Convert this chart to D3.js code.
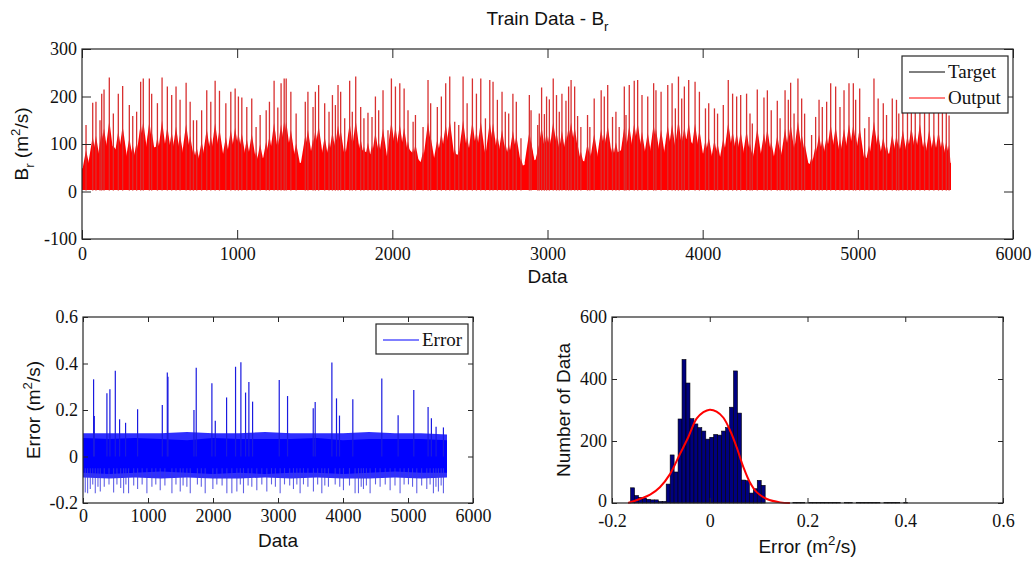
<!DOCTYPE html>
<head>
<meta charset="utf-8" />
</head>
<style>
body { margin: 0; background: #fff; }
svg { display: block; }
</style>
<body>
<script src="https://cdn.jsdelivr.net/npm/d3@7"></script>
<script>
// ---- data ----
// top panel: ticks
var brXTicks = [0, 1000, 2000, 3000, 4000, 5000, 6000];
var brYTicks = [-100, 0, 100, 200, 300];
// top panel: solid body of the output curve, one value every 100 samples
var brBodyStep = 100;
var brBodyTop = [60, 95, 120, 70, 110, 120, 80, 70, 90, 85, 70, 75, 95, 120, 75, 80, 100, 85, 110, 90,
  90, 115, 70, 80, 100, 85, 95, 110, 60, 80, 95, 110, 85, 70, 90, 115, 95, 80, 105, 140,
  100, 85, 100, 85, 70, 80, 95, 70, 90, 105, 80, 95, 100, 90, 85, 80, 75];
// top panel: peaks [sample, Br]
var brPeaks = [[26,140],[69,187],[90,189],[116,150],[127,206],[142,215],[176,240],[202,164],[234,206],[262,222],
  [305,182],[327,159],[352,168],[378,231],[395,238],[434,238],[449,206],[486,186],[516,240],[550,221],
  [578,203],[606,221],[632,193],[671,229],[697,189],[718,150],[739,150],[771,171],[804,213],[830,189],
  [858,233],[886,212],[927,186],[959,210],[987,217],[1008,200],[1030,198],[1062,178],[1094,196],[1122,136],
  [1148,161],[1187,171],[1208,189],[1238,233],[1262,177],[1283,228],[1303,238],[1316,238],[1346,210],[1380,164],
  [1439,189],[1456,210],[1489,178],[1504,210],[1525,224],[1564,186],[1592,168],[1614,203],[1633,182],[1650,224],
  [1667,210],[1693,154],[1725,233],[1742,168],[1764,242],[1796,178],[1817,154],[1843,166],[1869,157],[1891,200],
  [1912,171],[1940,213],[1972,129],[1994,238],[2020,221],[2048,228],[2076,217],[2101,171],[2134,147],[2149,161],
  [2198,136],[2230,235],[2247,186],[2290,178],[2316,200],[2344,228],[2370,242],[2402,147],[2428,140],[2456,242],
  [2482,186],[2516,238],[2542,206],[2570,238],[2600,154],[2628,235],[2649,231],[2677,193],[2707,210],[2728,168],
  [2750,164],[2777,206],[2799,189],[2829,112],[2883,203],[2894,171],[2937,140],[2947,164],[2962,219],[2980,163],
  [2994,200],[3012,194],[3037,238],[3058,203],[3076,168],[3093,206],[3119,191],[3136,221],[3152,235],[3175,221],
  [3194,159],[3215,136],[3258,161],[3273,136],[3301,196],[3346,213],[3366,200],[3388,224],[3419,157],[3441,168],
  [3462,136],[3495,221],[3506,161],[3527,224],[3559,233],[3581,235],[3609,203],[3646,200],[3684,228],[3699,213],
  [3732,210],[3775,224],[3803,228],[3824,175],[3844,242],[3865,196],[3882,221],[3910,235],[3951,231],[3979,210],
  [4018,175],[4039,186],[4076,175],[4096,164],[4133,182],[4165,235],[4193,206],[4219,200],[4245,203],[4283,206],
  [4305,164],[4320,143],[4352,215],[4395,198],[4417,213],[4442,171],[4481,191],[4499,154],[4531,213],[4552,193],
  [4567,229],[4589,164],[4614,238],[4638,196],[4657,164],[4702,119],[4728,157],[4750,193],[4771,178],[4799,189],
  [4825,228],[4857,221],[4885,178],[4911,213],[4943,228],[4971,228],[4986,193],[5012,217],[5044,133],[5072,157],
  [5104,238],[5131,196],[5164,186],[5185,161],[5222,196],[5249,193],[5264,164],[5290,210],[5320,190],[5345,220],
  [5370,200],[5400,230],[5430,180],[5460,210],[5490,195],[5520,205],[5545,180],[5570,170],[5588,160]];

// bottom left: error series
var errXTicks = [0, 1000, 2000, 3000, 4000, 5000, 6000];
var errYTicks = [-0.2, 0, 0.2, 0.4, 0.6];
var errBandStep = 400;
var errCoreHi = [0.08, 0.075, 0.08, 0.075, 0.07, 0.08, 0.075, 0.075, 0.075, 0.08, 0.07, 0.075, 0.075, 0.075, 0.07];
var errCoreLo = [-0.07, -0.075, -0.07, -0.065, -0.07, -0.075, -0.07, -0.075, -0.07, -0.07, -0.075, -0.07, -0.065, -0.07, -0.07];
var errOuterHi = [0.1, 0.1, 0.1, 0.1, 0.105, 0.1, 0.1, 0.105, 0.1, 0.1, 0.1, 0.105, 0.1, 0.1, 0.095];
var errOuterLo = [-0.09, -0.095, -0.09, -0.095, -0.09, -0.095, -0.095, -0.09, -0.095, -0.09, -0.095, -0.095, -0.09, -0.095, -0.09];
var errUpPeaks = [[163,0.332],[174,0.174],[368,0.272],[414,0.289],[497,0.369],[563,0.16],[655,0.145],[840,0.203],
  [1220,0.221],[1297,0.361],[1307,0.343],[1707,0.2],[1742,0.382],[1983,0.315],[2035,0.154],[2209,0.254],
  [2347,0.386],[2429,0.405],[2501,0.275],[2552,0.32],[2609,0.236],[3019,0.329],[3147,0.26],[3542,0.208],
  [3572,0.234],[3829,0.404],[3900,0.25],[3946,0.176],[4151,0.246],[4597,0.336],[4848,0.177],[5089,0.286],
  [5309,0.213],[5360,0.164],[5432,0.128],[5545,0.125]];
var errDownPeaks = [[35,-0.155],[71,-0.158],[112,-0.14],[150,-0.12],[189,-0.158],[230,-0.13],[266,-0.15],[327,-0.13],
  [400,-0.12],[471,-0.155],[522,-0.12],[580,-0.135],[625,-0.158],[660,-0.12],[701,-0.158],[780,-0.125],[840,-0.14],
  [910,-0.12],[983,-0.158],[1060,-0.13],[1120,-0.12],[1188,-0.145],[1260,-0.125],[1368,-0.158],[1430,-0.12],
  [1496,-0.15],[1540,-0.125],[1598,-0.13],[1650,-0.158],[1760,-0.12],[1820,-0.13],[1880,-0.158],[1998,-0.14],
  [2059,-0.12],[2140,-0.125],[2213,-0.158],[2290,-0.158],[2367,-0.15],[2420,-0.12],[2469,-0.158],[2540,-0.125],
  [2597,-0.13],[2674,-0.145],[2751,-0.12],[2828,-0.15],[2900,-0.12],[2960,-0.13],[3033,-0.158],[3100,-0.12],
  [3180,-0.125],[3238,-0.14],[3290,-0.12],[3340,-0.158],[3392,-0.12],[3460,-0.13],[3545,-0.15],[3610,-0.12],
  [3674,-0.158],[3720,-0.125],[3776,-0.13],[3880,-0.12],[3950,-0.13],[4007,-0.145],[4100,-0.125],[4186,-0.158],
  [4238,-0.158],[4280,-0.13],[4315,-0.14],[4360,-0.125],[4417,-0.158],[4500,-0.12],[4571,-0.13],[4650,-0.12],
  [4725,-0.145],[4800,-0.125],[4878,-0.158],[4940,-0.12],[5007,-0.12],[5070,-0.13],[5135,-0.158],[5210,-0.125],
  [5289,-0.14],[5340,-0.12],[5391,-0.158],[5430,-0.13],[5468,-0.15],[5510,-0.125],[5545,-0.158]];

// bottom right: histogram of the error and fitted curve
var histXTicks = [-0.2, 0, 0.2, 0.4, 0.6];
var histYTicks = [0, 200, 400, 600];
var histStart = -0.162;
var histBinWidth = 0.0081;
var histCounts = [49, 24, 18, 16, 12, 10, 10, 5, 5, 61, 155, 100, 271, 463, 387, 272, 255, 243, 232, 206,
  212, 221, 219, 232, 243, 309, 426, 290, 74, 72, 32, 46, 73, 57, 0, 0, 0, 0, 0, 0,
  0, 2, 1, 1, 0, 2, 1, 1, 2, 1, 1, 2, 1, 0, 1, 1, 0, 2, 1, 1,
  2, 1, 1, 0, 1, 1, 2, 1, 0, 1];
var fitX = [-0.167, -0.143, -0.122, -0.102, -0.081, -0.061, -0.044, -0.027, -0.013, 0.0, 0.014, 0.028,
  0.043, 0.055, 0.069, 0.082, 0.096, 0.117, 0.144, 0.164];
var fitY = [0, 13, 27, 51, 94, 158, 212, 272, 293, 301, 295, 275, 229, 180, 115, 67, 35, 13, 2, 0];

// ---- drawing ----
var W = 1034, H = 561;
var svg = d3.select("body").append("svg").attr("width", W).attr("height", H);
svg.append("rect").attr("width", W).attr("height", H).attr("fill", "#fff");

var serif = "'Liberation Serif', 'Times New Roman', serif";
var sans = "'Liberation Sans', Arial, Helvetica, sans-serif";
var axisColor = "#262626";

function makePanel(box, xDom, yDom) {
  return {
    box: box,
    x: d3.scaleLinear().domain(xDom).range([box.l, box.r]),
    y: d3.scaleLinear().domain(yDom).range([box.b, box.t]),
    g: svg.append("g")
  };
}

function drawAxes(p, xTicks, yTicks, tick, padX, padY) {
  var fmt = function(d) { return String(+d.toFixed(2)); };
  var g = p.g.append("g");
  var axes = [
    g.append("g").attr("transform", "translate(0," + p.box.b + ")")
      .call(d3.axisBottom(p.x).tickValues(xTicks).tickSize(-tick).tickPadding(padX).tickFormat(fmt)),
    g.append("g").attr("transform", "translate(0," + p.box.t + ")")
      .call(d3.axisTop(p.x).tickValues(xTicks).tickSize(-tick).tickFormat("")),
    g.append("g").attr("transform", "translate(" + p.box.l + ",0)")
      .call(d3.axisLeft(p.y).tickValues(yTicks).tickSize(-tick).tickPadding(padY).tickFormat(fmt)),
    g.append("g").attr("transform", "translate(" + p.box.r + ",0)")
      .call(d3.axisRight(p.y).tickValues(yTicks).tickSize(-tick).tickFormat(""))
  ];
  axes.forEach(function(a) { a.attr("font-family", serif).attr("font-size", 18); });
  g.selectAll(".domain").remove();
  g.selectAll(".tick line").attr("stroke", axisColor);
  g.selectAll(".tick text")
    .style("font-family", serif)
    .style("font-size", "18px")
    .style("fill", "#111");
  g.append("rect")
    .attr("x", p.box.l).attr("y", p.box.t)
    .attr("width", p.box.r - p.box.l).attr("height", p.box.b - p.box.t)
    .attr("fill", "none").attr("stroke", axisColor).attr("stroke-width", 1.2);
}

// label with sub/superscript parts: [text, shift] where shift = 0, "sub" or "sup"
function richText(parent, parts, size) {
  var t = parent.append("text")
    .attr("text-anchor", "middle")
    .style("font-family", sans)
    .style("font-size", size + "px")
    .style("fill", "#111");
  var shift = 0;
  parts.forEach(function(pt) {
    var target = pt[1] == "sub" ? size * 0.3 : (pt[1] == "sup" ? -size * 0.42 : 0);
    var ts = t.append("tspan").attr("dy", target - shift).text(pt[0]);
    if (pt[1]) ts.style("font-size", (size * 0.7) + "px");
    shift = target;
  });
  return t;
}

/* ------- TOP PANEL: Br ------- */
var tp = makePanel({l: 82, r: 1013, t: 49, b: 239}, [0, 6000], [-100, 300]);

var bodyData = brBodyTop.map(function(v, i) { return {i: i * brBodyStep, v: v * 0.8}; });
tp.g.append("path")
  .datum(bodyData)
  .attr("fill", "#ff0000")
  .attr("d", d3.area()
    .x(function(d) { return tp.x(d.i); })
    .y0(tp.y(3))
    .y1(function(d) { return tp.y(d.v); }));

// each peak: a filled hump under it plus the thin line up to its top
var hillHalf = 30;
tp.g.append("g").selectAll("path")
  .data(brPeaks)
  .enter().append("path")
  .attr("fill", "#ff0000")
  .attr("d", function(d) {
    return d3.line()([
      [tp.x(Math.max(0, d[0] - hillHalf)), tp.y(3)],
      [tp.x(Math.max(0, d[0] - hillHalf)), tp.y(d[1] * 0.3)],
      [tp.x(d[0]), tp.y(d[1] * 0.62)],
      [tp.x(Math.min(5600, d[0] + hillHalf)), tp.y(d[1] * 0.3)],
      [tp.x(Math.min(5600, d[0] + hillHalf)), tp.y(3)]
    ]) + "Z";
  });

tp.g.append("g").selectAll("line")
  .data(brPeaks)
  .enter().append("line")
  .attr("x1", function(d) { return tp.x(d[0]); })
  .attr("x2", function(d) { return tp.x(d[0]); })
  .attr("y1", tp.y(2))
  .attr("y2", function(d) { return tp.y(d[1]); })
  .attr("stroke", "#d83030")
  .attr("stroke-width", 1.3);

drawAxes(tp, brXTicks, brYTicks, 9, 8, 5);

richText(svg, [["Train Data - B", 0], ["r", "sub"]], 19)
  .attr("x", (tp.box.l + tp.box.r) / 2).attr("y", 25);
richText(svg, [["Data", 0]], 19)
  .attr("x", (tp.box.l + tp.box.r) / 2).attr("y", 283);
richText(svg, [["B", 0], ["r", "sub"], [" (m", 0], ["2", "sup"], ["/s)", 0]], 19)
  .attr("transform", "translate(28," + (tp.box.t + tp.box.b) / 2 + ") rotate(-90)");

// legend
var lg = svg.append("g").attr("transform", "translate(" + (tp.box.r - 111) + "," + (tp.box.t + 7) + ")");
lg.append("rect").attr("width", 106).attr("height", 57).attr("fill", "#fff").attr("stroke", axisColor).attr("stroke-width", 1.2);
[["Target", "#000"], ["Output", "#ff0000"]].forEach(function(e, k) {
  lg.append("line").attr("x1", 7).attr("x2", 43).attr("y1", 16 + k * 26).attr("y2", 16 + k * 26)
    .attr("stroke", e[1]).attr("stroke-width", 1);
  lg.append("text").attr("x", 46).attr("y", 22 + k * 26).text(e[0])
    .style("font-family", serif).style("font-size", "19px").style("fill", "#111");
});

/* ------- BOTTOM LEFT: error ------- */
var el = makePanel({l: 83, r: 473, t: 317, b: 503}, [0, 6000], [-0.2, 0.6]);

function band(hi, lo) {
  return hi.map(function(v, i) { return {i: i * errBandStep, hi: v, lo: lo[i]}; });
}
var bandArea = d3.area()
  .x(function(d) { return el.x(d.i); })
  .y0(function(d) { return el.y(d.lo); })
  .y1(function(d) { return el.y(d.hi); });

el.g.append("path").datum(band(errOuterHi, errOuterLo))
  .attr("fill", "#0000ff").attr("fill-opacity", 0.82).attr("d", bandArea);
el.g.append("path").datum(band(errCoreHi, errCoreLo))
  .attr("fill", "#0000ff").attr("d", bandArea);

el.g.append("g").selectAll("line")
  .data(errDownPeaks)
  .enter().append("line")
  .attr("x1", function(d) { return el.x(d[0]); })
  .attr("x2", function(d) { return el.x(d[0]); })
  .attr("y1", el.y(-0.05))
  .attr("y2", function(d) { return el.y(d[1]); })
  .attr("stroke", "#3a3ae0").attr("stroke-width", 1.1).attr("stroke-opacity", 0.8);

el.g.append("g").selectAll("line")
  .data(errUpPeaks)
  .enter().append("line")
  .attr("x1", function(d) { return el.x(d[0]); })
  .attr("x2", function(d) { return el.x(d[0]); })
  .attr("y1", el.y(0))
  .attr("y2", function(d) { return el.y(d[1]); })
  .attr("stroke", "#1a1ae0").attr("stroke-width", 1.2);

drawAxes(el, errXTicks, errYTicks, 5, 6, 5);

richText(svg, [["Data", 0]], 19)
  .attr("x", (el.box.l + el.box.r) / 2).attr("y", 547);
richText(svg, [["Error (m", 0], ["2", "sup"], ["/s)", 0]], 19)
  .attr("transform", "translate(40," + (el.box.t + el.box.b) / 2 + ") rotate(-90)");

var lg2 = svg.append("g").attr("transform", "translate(" + (el.box.r - 97) + "," + (el.box.t + 7) + ")");
lg2.append("rect").attr("width", 92).attr("height", 30).attr("fill", "#fff").attr("stroke", axisColor).attr("stroke-width", 1.2);
lg2.append("line").attr("x1", 7).attr("x2", 43).attr("y1", 16).attr("y2", 16)
  .attr("stroke", "#0000ff").attr("stroke-width", 1);
lg2.append("text").attr("x", 46).attr("y", 22).text("Error")
  .style("font-family", serif).style("font-size", "19px").style("fill", "#111");

/* ------- BOTTOM RIGHT: histogram ------- */
var hp = makePanel({l: 612, r: 1003, t: 317, b: 503}, [-0.2, 0.6], [0, 600]);

hp.g.append("g").selectAll("rect")
  .data(histCounts.map(function(c, i) { return {lo: histStart + i * histBinWidth, c: c}; })
    .filter(function(d) { return d.c > 0; }))
  .enter().append("rect")
  .attr("x", function(d) { return hp.x(d.lo); })
  .attr("width", function(d) { return hp.x(d.lo + histBinWidth) - hp.x(d.lo); })
  .attr("y", function(d) { return hp.y(d.c); })
  .attr("height", function(d) { return hp.y(0) - hp.y(d.c); })
  .attr("fill", "#00007f")
  .attr("stroke", "#000")
  .attr("stroke-width", 0.6);

hp.g.append("path")
  .datum(fitX.map(function(v, i) { return [v, fitY[i]]; }))
  .attr("fill", "none")
  .attr("stroke", "#ff0000")
  .attr("stroke-width", 2)
  .attr("d", d3.line()
    .curve(d3.curveCatmullRom)
    .x(function(d) { return hp.x(d[0]); })
    .y(function(d) { return hp.y(d[1]); }));

drawAxes(hp, histXTicks, histYTicks, 5, 11, 5);
// the y label "0" sits just above the "-0.2" x label: nudge it up a little
hp.g.selectAll(".tick text").filter(function(d) { return d === 0 && this.getAttribute("x") < 0; })
  .attr("dy", "0.2em");

richText(svg, [["Error (m", 0], ["2", "sup"], ["/s)", 0]], 19)
  .attr("x", (hp.box.l + hp.box.r) / 2).attr("y", 553);
richText(svg, [["Number of Data", 0]], 19)
  .attr("transform", "translate(570," + (hp.box.t + hp.box.b) / 2 + ") rotate(-90)");
</script>
</body>
